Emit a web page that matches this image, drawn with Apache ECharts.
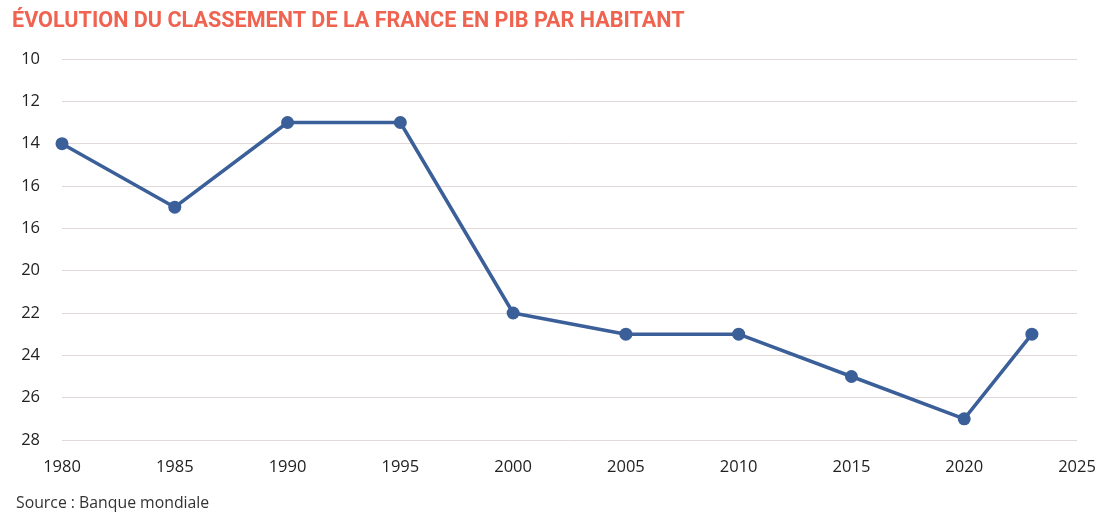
<!DOCTYPE html>
<html>
<head>
<meta charset="utf-8">
<script src="https://cdn.jsdelivr.net/npm/echarts@6/dist/echarts.min.js"></script>
<style>
html,body{margin:0;padding:0;background:#fff;}
#c{width:1108px;height:517px;}
</style>
</head>
<body>
<div id="c"></div>
<script>
const years = [1980, 1985, 1990, 1995, 2000, 2005, 2010, 2015, 2020, 2023];
const ranks = [14, 17, 13, 13, 22, 23, 23, 25, 27, 23];
const yTickValues = [10, 12, 14, 16, 18, 20, 22, 24, 26, 28];
const yTickLabels = ['10', '12', '14', '16', '16', '20', '22', '24', '26', '28'];
const xTickLabels = ['1980', '1985', '1990', '1995', '2000', '2005', '2010', '2015', '2020', '2025'];

const chart = echarts.init(document.getElementById('c'));
chart.setOption({
  animation: false,
  title: [{
    text: 'ÉVOLUTION DU CLASSEMENT DE LA FRANCE EN PIB PAR HABITANT',
    left: 7, top: 6,
    textStyle: {color: '#ef6350', fontFamily: 'Roboto', fontWeight: 'bold', fontSize: 21.6}
  }, {
    text: 'Source : Banque mondiale',
    left: 11, top: 490,
    textStyle: {color: '#333', fontFamily: 'Open Sans', fontWeight: 'normal', fontSize: 15.8}
  }],
  grid: {left: 62, right: 31, top: 59, bottom: 77, containLabel: false},
  xAxis: {
    type: 'value', min: 1980, max: 2025, interval: 5,
    axisLine: {show: false}, axisTick: {show: false}, splitLine: {show: false},
    axisLabel: {
      color: '#222', fontFamily: 'Open Sans', fontSize: 16.5, margin: 19,
      formatter: v => { const i = xTickLabels.indexOf(String(v)); return i >= 0 ? xTickLabels[i] : ''; }
    }
  },
  yAxis: {
    type: 'value', min: 10, max: 28, interval: 2, inverse: true,
    axisLine: {show: false}, axisTick: {show: false},
    splitLine: {show: true, lineStyle: {color: '#e2d8d8', width: 1}},
    axisLabel: {
      color: '#222', fontFamily: 'Open Sans', fontSize: 16.5, margin: 22,
      formatter: v => { const i = yTickValues.indexOf(v); return i >= 0 ? yTickLabels[i] : ''; }
    }
  },
  series: [{
    type: 'line',
    data: years.map((y, i) => [y, ranks[i]]),
    symbol: 'circle', symbolSize: 13,
    lineStyle: {color: '#3b5f99', width: 3.5},
    itemStyle: {color: '#3b5f99'}
  }]
});
</script>
</body>
</html>
